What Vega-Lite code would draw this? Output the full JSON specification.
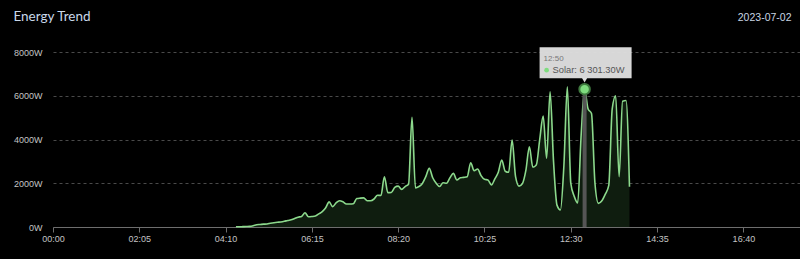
{
  "$schema": "https://vega.github.io/schema/vega-lite/v6.json",
  "autosize": "none",
  "width": 747,
  "height": 175,
  "padding": {"left": 53, "top": 52, "right": 0, "bottom": 32},
  "background": "#000000",
  "config": {
    "view": {"stroke": null},
    "axis": {"labelFont": "Liberation Sans", "titleFont": "Liberation Sans"}
  },
  "title": {
    "text": "Energy Trend",
    "anchor": "start",
    "frame": "bounds",
    "offset": -11,
    "font": "Lato",
    "fontSize": 13.5,
    "fontWeight": "normal",
    "color": "#c9d8ea"
  },
  "resolve": {"axis": {"x": "independent"}},
  "datasets": {
    "solar": [
      {"t": "2023-07-02T04:25", "v": 10},
      {"t": "2023-07-02T04:30", "v": 10},
      {"t": "2023-07-02T04:35", "v": 15},
      {"t": "2023-07-02T04:40", "v": 20},
      {"t": "2023-07-02T04:45", "v": 30},
      {"t": "2023-07-02T04:50", "v": 60},
      {"t": "2023-07-02T04:55", "v": 100},
      {"t": "2023-07-02T05:00", "v": 115},
      {"t": "2023-07-02T05:05", "v": 130},
      {"t": "2023-07-02T05:10", "v": 140},
      {"t": "2023-07-02T05:15", "v": 170},
      {"t": "2023-07-02T05:20", "v": 195},
      {"t": "2023-07-02T05:25", "v": 215},
      {"t": "2023-07-02T05:30", "v": 230},
      {"t": "2023-07-02T05:35", "v": 260},
      {"t": "2023-07-02T05:40", "v": 300},
      {"t": "2023-07-02T05:45", "v": 330},
      {"t": "2023-07-02T05:50", "v": 390},
      {"t": "2023-07-02T05:55", "v": 450},
      {"t": "2023-07-02T06:00", "v": 480},
      {"t": "2023-07-02T06:05", "v": 650},
      {"t": "2023-07-02T06:10", "v": 470},
      {"t": "2023-07-02T06:15", "v": 480},
      {"t": "2023-07-02T06:20", "v": 500},
      {"t": "2023-07-02T06:25", "v": 600},
      {"t": "2023-07-02T06:30", "v": 700},
      {"t": "2023-07-02T06:35", "v": 880},
      {"t": "2023-07-02T06:40", "v": 1150},
      {"t": "2023-07-02T06:45", "v": 930},
      {"t": "2023-07-02T06:50", "v": 1100},
      {"t": "2023-07-02T06:55", "v": 1200},
      {"t": "2023-07-02T07:00", "v": 1150},
      {"t": "2023-07-02T07:05", "v": 1050},
      {"t": "2023-07-02T07:10", "v": 1050},
      {"t": "2023-07-02T07:15", "v": 1060},
      {"t": "2023-07-02T07:20", "v": 1300},
      {"t": "2023-07-02T07:25", "v": 1320},
      {"t": "2023-07-02T07:30", "v": 1330},
      {"t": "2023-07-02T07:35", "v": 1200},
      {"t": "2023-07-02T07:40", "v": 1200},
      {"t": "2023-07-02T07:45", "v": 1280},
      {"t": "2023-07-02T07:50", "v": 1450},
      {"t": "2023-07-02T07:55", "v": 1440},
      {"t": "2023-07-02T08:00", "v": 2300},
      {"t": "2023-07-02T08:05", "v": 1570},
      {"t": "2023-07-02T08:10", "v": 1580},
      {"t": "2023-07-02T08:15", "v": 1810},
      {"t": "2023-07-02T08:20", "v": 1870},
      {"t": "2023-07-02T08:25", "v": 1720},
      {"t": "2023-07-02T08:30", "v": 1850},
      {"t": "2023-07-02T08:35", "v": 1950},
      {"t": "2023-07-02T08:40", "v": 5010},
      {"t": "2023-07-02T08:45", "v": 1790},
      {"t": "2023-07-02T08:50", "v": 1850},
      {"t": "2023-07-02T08:55", "v": 1990},
      {"t": "2023-07-02T09:00", "v": 2300},
      {"t": "2023-07-02T09:05", "v": 2680},
      {"t": "2023-07-02T09:10", "v": 2250},
      {"t": "2023-07-02T09:15", "v": 2000},
      {"t": "2023-07-02T09:20", "v": 1850},
      {"t": "2023-07-02T09:25", "v": 2020},
      {"t": "2023-07-02T09:30", "v": 2000},
      {"t": "2023-07-02T09:35", "v": 2250},
      {"t": "2023-07-02T09:40", "v": 2450},
      {"t": "2023-07-02T09:45", "v": 2150},
      {"t": "2023-07-02T09:50", "v": 2250},
      {"t": "2023-07-02T09:55", "v": 2270},
      {"t": "2023-07-02T10:00", "v": 2300},
      {"t": "2023-07-02T10:05", "v": 2940},
      {"t": "2023-07-02T10:10", "v": 2570},
      {"t": "2023-07-02T10:15", "v": 2650},
      {"t": "2023-07-02T10:20", "v": 2350},
      {"t": "2023-07-02T10:25", "v": 2180},
      {"t": "2023-07-02T10:30", "v": 2150},
      {"t": "2023-07-02T10:35", "v": 1920},
      {"t": "2023-07-02T10:40", "v": 2200},
      {"t": "2023-07-02T10:45", "v": 2500},
      {"t": "2023-07-02T10:50", "v": 3060},
      {"t": "2023-07-02T10:55", "v": 2550},
      {"t": "2023-07-02T11:00", "v": 2500},
      {"t": "2023-07-02T11:05", "v": 3970},
      {"t": "2023-07-02T11:10", "v": 2300},
      {"t": "2023-07-02T11:15", "v": 1870},
      {"t": "2023-07-02T11:20", "v": 1990},
      {"t": "2023-07-02T11:25", "v": 2600},
      {"t": "2023-07-02T11:30", "v": 3670},
      {"t": "2023-07-02T11:35", "v": 2730},
      {"t": "2023-07-02T11:40", "v": 2830},
      {"t": "2023-07-02T11:45", "v": 4000},
      {"t": "2023-07-02T11:50", "v": 5070},
      {"t": "2023-07-02T11:55", "v": 3140},
      {"t": "2023-07-02T12:00", "v": 6180},
      {"t": "2023-07-02T12:05", "v": 3000},
      {"t": "2023-07-02T12:10", "v": 1000},
      {"t": "2023-07-02T12:15", "v": 780},
      {"t": "2023-07-02T12:20", "v": 2800},
      {"t": "2023-07-02T12:25", "v": 6410},
      {"t": "2023-07-02T12:30", "v": 2000},
      {"t": "2023-07-02T12:35", "v": 1400},
      {"t": "2023-07-02T12:40", "v": 1100},
      {"t": "2023-07-02T12:45", "v": 4200},
      {"t": "2023-07-02T12:50", "v": 6301.3},
      {"t": "2023-07-02T12:55", "v": 5400},
      {"t": "2023-07-02T13:00", "v": 5190},
      {"t": "2023-07-02T13:05", "v": 2000},
      {"t": "2023-07-02T13:10", "v": 1080},
      {"t": "2023-07-02T13:15", "v": 1200},
      {"t": "2023-07-02T13:20", "v": 1500},
      {"t": "2023-07-02T13:25", "v": 1900},
      {"t": "2023-07-02T13:30", "v": 5400},
      {"t": "2023-07-02T13:35", "v": 6000},
      {"t": "2023-07-02T13:40", "v": 2300},
      {"t": "2023-07-02T13:45", "v": 5750},
      {"t": "2023-07-02T13:50", "v": 5780},
      {"t": "2023-07-02T13:55", "v": 1840}
    ],
    "hover": [
      {"t": "2023-07-02T12:50", "v": 6301.3, "series": "Solar", "label": "Solar: 6 301.30W"}
    ]
  },
  "encoding": {
    "x": {
      "field": "t",
      "type": "temporal",
      "scale": {
        "domain": [
          {"year": 2023, "month": 7, "date": 2, "hours": 0, "minutes": 0},
          {"year": 2023, "month": 7, "date": 2, "hours": 18, "minutes": 2}
        ],
        "nice": false
      },
      "axis": null
    },
    "y": {
      "field": "v",
      "type": "quantitative",
      "scale": {"domain": [0, 8000], "nice": false},
      "axis": {
        "title": null,
        "values": [0, 2000, 4000, 6000, 8000],
        "labelExpr": "datum.value + 'W'",
        "domain": false,
        "ticks": false,
        "grid": true,
        "gridColor": "#4a4a4a",
        "gridDash": [3, 3],
        "gridWidth": 1,
        "labelColor": "#c4c4c4",
        "labelFontSize": 9,
        "labelPadding": 11
      }
    }
  },
  "layer": [
    {
      "data": {"name": "solar"},
      "mark": {
        "type": "area",
        "interpolate": "monotone",
        "color": "#0f1d0f",
        "opacity": 1,
        "line": {"color": "#8cd98c", "strokeWidth": 1.6}
      },
      "encoding": {
        "x": {
          "field": "t",
          "type": "temporal",
          "axis": {
            "orient": "bottom",
            "title": null,
            "format": "%H:%M",
            "values": [
              {"year": 2023, "month": 7, "date": 2, "hours": 0, "minutes": 0},
              {"year": 2023, "month": 7, "date": 2, "hours": 2, "minutes": 5},
              {"year": 2023, "month": 7, "date": 2, "hours": 4, "minutes": 10},
              {"year": 2023, "month": 7, "date": 2, "hours": 6, "minutes": 15},
              {"year": 2023, "month": 7, "date": 2, "hours": 8, "minutes": 20},
              {"year": 2023, "month": 7, "date": 2, "hours": 10, "minutes": 25},
              {"year": 2023, "month": 7, "date": 2, "hours": 12, "minutes": 30},
              {"year": 2023, "month": 7, "date": 2, "hours": 14, "minutes": 35},
              {"year": 2023, "month": 7, "date": 2, "hours": 16, "minutes": 40}
            ],
            "grid": false,
            "domainColor": "#6e6e6e",
            "tickColor": "#6e6e6e",
            "tickSize": 5,
            "labelColor": "#c4c4c4",
            "labelFontSize": 9,
            "labelPadding": 2,
            "labelFlush": false,
            "labelOverlap": false
          }
        }
      }
    },
    {
      "data": {"name": "hover"},
      "mark": {"type": "rule", "color": "#555555", "strokeWidth": 4},
      "encoding": {
        "x": {
          "field": "t",
          "type": "temporal",
          "axis": {
            "orient": "top",
            "title": "2023-07-02",
            "labels": false,
            "ticks": false,
            "domain": false,
            "grid": false,
            "titleAlign": "right",
            "titleX": 738,
            "titlePadding": 30,
            "titleFontSize": 10.5,
            "titleFontWeight": "normal",
            "titleColor": "#c9d5e3"
          }
        },
        "y": {"field": "v", "type": "quantitative"},
        "y2": {"datum": 0}
      }
    },
    {
      "data": {"name": "hover"},
      "mark": {
        "type": "point",
        "shape": "M-1,-0.337H1V0.337H-1Z",
        "size": 8464,
        "filled": true,
        "color": "#dedede",
        "opacity": 0.97,
        "yOffset": -26.5,
        "xOffset": 1
      }
    },
    {
      "data": {"name": "hover"},
      "mark": {
        "type": "point",
        "shape": "triangle-down",
        "size": 30,
        "filled": true,
        "color": "#dedede",
        "opacity": 1,
        "yOffset": -9
      }
    },
    {
      "data": {"name": "hover"},
      "mark": {
        "type": "point",
        "shape": "circle",
        "size": 110,
        "filled": true,
        "fill": "#7fdc7f",
        "stroke": "#3f7a3f",
        "strokeWidth": 2,
        "opacity": 1
      }
    },
    {
      "data": {"name": "hover"},
      "mark": {
        "type": "text",
        "align": "left",
        "baseline": "middle",
        "dx": -41,
        "dy": -30,
        "font": "Liberation Sans",
        "fontSize": 8,
        "color": "#777777"
      },
      "encoding": {
        "text": {"field": "t", "type": "temporal", "format": "%H:%M"}
      }
    },
    {
      "data": {"name": "hover"},
      "mark": {
        "type": "point",
        "shape": "circle",
        "size": 22,
        "filled": true,
        "color": "#7fdc7f",
        "opacity": 1,
        "xOffset": -38,
        "yOffset": -19
      }
    },
    {
      "data": {"name": "hover"},
      "mark": {
        "type": "text",
        "align": "left",
        "baseline": "middle",
        "dx": -32,
        "dy": -19,
        "font": "Liberation Sans",
        "fontSize": 9.3,
        "color": "#555555"
      },
      "encoding": {
        "text": {"field": "label", "type": "nominal"}
      }
    }
  ]
}
